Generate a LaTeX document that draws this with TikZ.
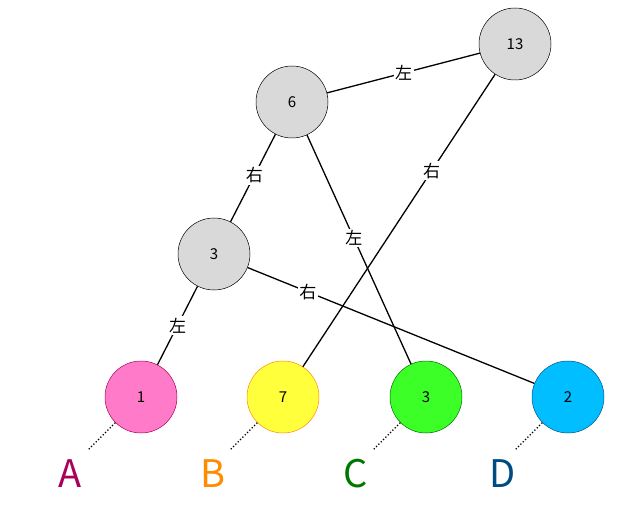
\documentclass[tikz,border=0pt]{standalone}
\usepackage{fontspec}
\setmainfont{Noto Sans CJK JP}
\begin{document}
\begin{tikzpicture}[x=1pt,y=-1pt,
  n/.style={circle,draw=black,line width=0.5pt,minimum size=72pt,inner sep=0pt,font=\fontsize{15}{15}\selectfont},
  e/.style={line width=1.3pt},
  lab/.style={fill=white,inner sep=1.5pt,font=\fontsize{17}{17}\selectfont},
  dot/.style={dotted,line width=1.3pt},
  big/.style={font=\fontsize{38}{38}\selectfont}]
\useasboundingbox (0,0) rectangle (640,505);
\node[n,fill=black!15] (a) at (515,44) {13};
\node[n,fill=black!15] (b) at (292,102) {6};
\node[n,fill=black!15] (c) at (214,254) {3};
\node[n,fill={rgb,255:red,255;green,122;blue,200},draw={rgb,255:red,170;green,0;blue,90}] (p) at (141,397) {1};
\node[n,fill={rgb,255:red,255;green,255;blue,60},draw={rgb,255:red,255;green,140;blue,0}] (y) at (283,397) {7};
\node[n,fill={rgb,255:red,60;green,255;blue,40},draw={rgb,255:red,0;green,110;blue,0}] (g) at (426,397) {3};
\node[n,fill={rgb,255:red,0;green,190;blue,255},draw={rgb,255:red,0;green,80;blue,140}] (q) at (568,397) {2};
\draw[e] (b) -- node[lab,pos=0.5]{左} (a);
\draw[e] (b) -- node[lab,pos=0.47]{右} (c);
\draw[e] (b) -- node[lab,pos=0.45]{左} (g);
\draw[e] (a) -- node[lab,pos=0.33]{右} (y);
\draw[e] (c) -- node[lab,pos=0.21]{右} (q);
\draw[e] (c) -- node[lab,pos=0.5]{左} (p);
\node[big,text={rgb,255:red,170;green,0;blue,90}] (A) at (70,474) {A};
\node[big,text={rgb,255:red,255;green,140;blue,0}] (B) at (213,474) {B};
\node[big,text={rgb,255:red,0;green,120;blue,0}] (C) at (356,474) {C};
\node[big,text={rgb,255:red,0;green,75;blue,130}] (D) at (503,474) {D};
\coordinate (A1) at (88,450); \coordinate (B1) at (230,450);
\coordinate (C1) at (373,450); \coordinate (D1) at (515,450);
\draw[dot] (p.225) -- (A1);
\draw[dot] (y.225) -- (B1);
\draw[dot] (g.225) -- (C1);
\draw[dot] (q.225) -- (D1);
\end{tikzpicture}
\end{document}
